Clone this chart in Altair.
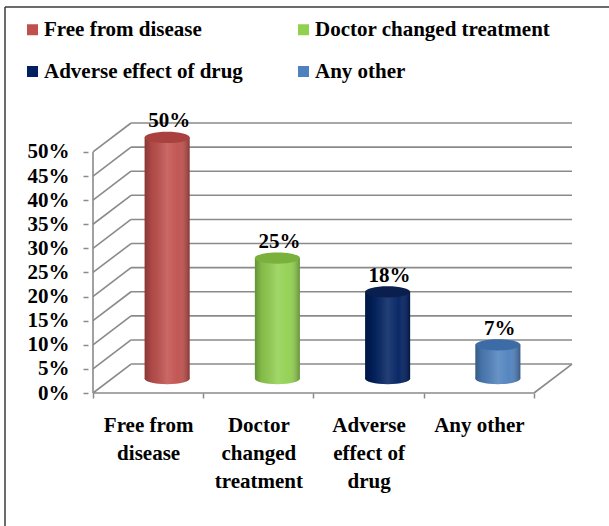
import json
import altair as alt
import pandas as pd

# ---- data -------------------------------------------------------------
categories = ["Free from disease", "Doctor changed treatment",
              "Adverse effect of drug", "Any other"]
category_lines = [["Free from", "disease"],
                  ["Doctor", "changed", "treatment"],
                  ["Adverse", "effect of", "drug"],
                  ["Any other"]]
shares = [0.50, 0.25, 0.18, 0.07]
y_ticks = [0.00, 0.05, 0.10, 0.15, 0.20, 0.25, 0.30, 0.35, 0.40, 0.45, 0.50]

# ---- styling ------------------------------------------------------------
body_colors = ["#C0504D", "#92D050", "#002060", "#4F81BD"]
cap_colors = ["#A9423F", "#7AB03C", "#0B1F4E", "#3C6BA6"]
FONT = "Liberation Serif"
GRID = "#8A8A8A"

# pseudo-3D box: depth offset in x (category units) and y (share units)
N = len(categories)
DEPTH_X = 0.345
DEPTH_Y = 0.06
W, H = 489, 270
BAR_PX = 45
ELLIPSE = "M-1,0A1,0.25,0,1,1,1,0A1,0.25,0,1,1,-1,0Z"

bars = pd.DataFrame({
    "cat": categories,
    "xc": [i + 0.5 + DEPTH_X / 2 for i in range(N)],
    "base": [DEPTH_Y / 2] * N,
    "top": [s + DEPTH_Y / 2 for s in shares],
    "label": [f"{round(s * 100)}%" for s in shares],
    "body": body_colors,
    "cap": cap_colors,
})

# wall / floor outline segments
segs = []
for t in y_ticks:
    segs.append((DEPTH_X, t + DEPTH_Y, N + DEPTH_X, t + DEPTH_Y))  # back wall
    segs.append((0, t, DEPTH_X, t + DEPTH_Y))                      # side wall
segs.append((N, 0, N + DEPTH_X, DEPTH_Y))                          # floor edge
segs.append((0, 0, N, 0))                                          # front floor
segs.append((0, 0, 0, y_ticks[-1]))                                # front axis
lines = pd.DataFrame(segs, columns=["x", "y", "x2", "y2"])

# ---- scales & axes ------------------------------------------------------
xs = alt.Scale(domain=[0, N + DEPTH_X], nice=False, zero=False)
ys = alt.Scale(domain=[0, y_ticks[-1] + DEPTH_Y], nice=False, zero=False)

label_expr = " : ".join(
    f"datum.value == {i + 0.5} ? {json.dumps(l)}" for i, l in enumerate(category_lines)
) + " : ''"
x_axis = alt.Axis(
    values=[i / 2 for i in range(2 * N + 1)],
    labelExpr=label_expr, labelFont=FONT, labelFontSize=21,
    labelFontWeight="bold", labelColor="black", labelLineHeight=28,
    labelPadding=16, labelOverlap=False, labelFlush=False, labelBound=False,
    tickSize=5, tickColor=GRID, tickWidth=1.5,
    tickOpacity={"condition": {"test": "datum.value % 1 == 0", "value": 1}, "value": 0},
    domain=False, grid=False, title=None,
)
y_axis = alt.Axis(
    values=y_ticks, format=".0%", labelFont=FONT, labelFontSize=21,
    labelFontWeight="bold", labelColor="black", labelPadding=14,
    tickSize=5, tickColor=GRID, tickWidth=1.5, domain=False, grid=False,
    title=None,
)


def X(field):
    return alt.X(field, type="quantitative", scale=xs, axis=x_axis, title=None)


def Y(field):
    return alt.Y(field, type="quantitative", scale=ys, axis=y_axis, title=None)


shade = alt.LinearGradient(
    gradient="linear", x1=0, x2=1, y1=0, y2=0,
    stops=[
        alt.GradientStop(offset=0.0, color="rgba(0,0,0,0.30)"),
        alt.GradientStop(offset=0.15, color="rgba(0,0,0,0.10)"),
        alt.GradientStop(offset=0.5, color="rgba(255,255,255,0.14)"),
        alt.GradientStop(offset=0.75, color="rgba(255,255,255,0.04)"),
        alt.GradientStop(offset=1.0, color="rgba(0,0,0,0.30)"),
    ],
)

outline = alt.Chart(lines).mark_rule(color=GRID, strokeWidth=1.6).encode(
    x=X("x"), y=Y("y"), x2="x2:Q", y2="y2:Q"
)

base_cap = alt.Chart(bars).mark_point(
    shape=ELLIPSE, size=BAR_PX ** 2, filled=True, opacity=1, strokeWidth=0
).encode(x=X("xc"), y=Y("base"), fill=alt.Fill("body:N", scale=None))

base_shade = alt.Chart(bars).mark_point(
    shape=ELLIPSE, size=BAR_PX ** 2, filled=True, opacity=1, strokeWidth=0,
    color=shade,
).encode(x=X("xc"), y=Y("base"))

body = alt.Chart(bars).mark_bar(size=BAR_PX).encode(
    x=X("xc"), y=Y("base"), y2="top:Q",
    color=alt.Color(
        "cat:N", scale=alt.Scale(domain=categories, range=body_colors),
        sort=categories,
        legend=alt.Legend(
            orient="none", direction="horizontal", legendX=-66, legendY=-104,
            columns=2, columnPadding=50, rowPadding=20, symbolType="square",
            symbolSize=121, symbolStrokeWidth=0, labelFont=FONT,
            labelFontSize=21, labelFontWeight="bold", labelColor="black",
            labelOffset=1, labelLimit=0, title=None,
        ),
    ),
)

body_shade = alt.Chart(bars).mark_bar(size=BAR_PX, color=shade).encode(
    x=X("xc"), y=Y("base"), y2="top:Q"
)

top_cap = alt.Chart(bars).mark_point(
    shape=ELLIPSE, size=BAR_PX ** 2, filled=True, opacity=1, strokeWidth=0
).encode(x=X("xc"), y=Y("top"), fill=alt.Fill("cap:N", scale=None))

labels = alt.Chart(bars).mark_text(
    font=FONT, fontSize=21, fontWeight="bold", color="black",
    baseline="alphabetic", dy=-10, dx=2,
).encode(x=X("xc"), y=Y("top"), text="label:N")

frame_df = pd.DataFrame({"k": [0]})
frame_top = alt.Chart(frame_df).mark_rule(color="#3A3A3A", strokeWidth=1.5).encode(
    x=alt.value(-83), x2=alt.value(W + 32), y=alt.value(-116), y2=alt.value(-116)
)
frame_left = alt.Chart(frame_df).mark_rule(color="#3A3A3A", strokeWidth=1.5).encode(
    x=alt.value(-83), x2=alt.value(-83), y=alt.value(-116), y2=alt.value(H + 133)
)

chart = alt.layer(
    outline, base_cap, base_shade, body, body_shade, top_cap, labels,
    frame_top, frame_left,
).properties(
    width=W, height=H,
    autosize=alt.AutoSizeParams(type="none"),
    padding={"left": 88, "top": 123, "right": 32, "bottom": 133},
    background="white",
).configure_view(stroke=None)

chart.save("out.html", embed_options={"renderer": "svg", "actions": False})
